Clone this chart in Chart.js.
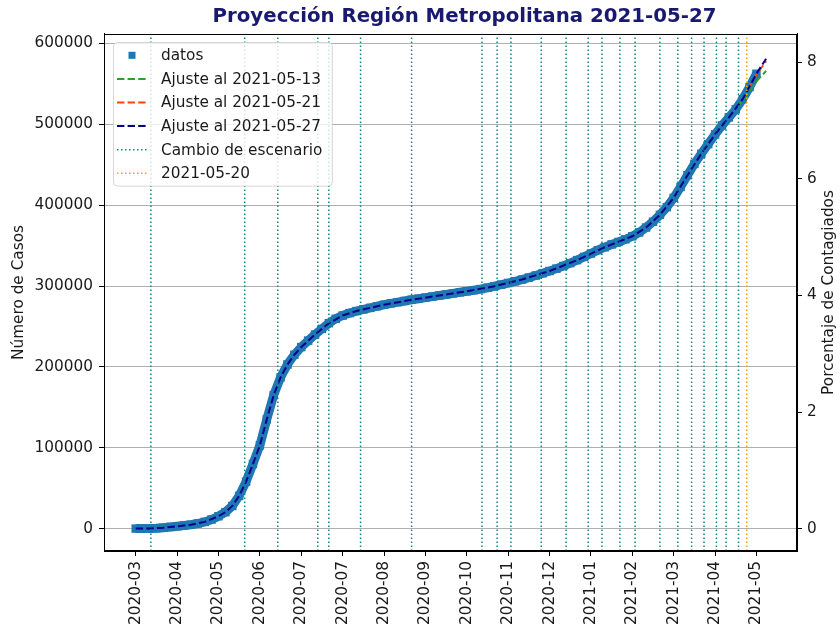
<!DOCTYPE html>
<html><head><meta charset="utf-8">
<script src="https://cdn.jsdelivr.net/npm/chart.js@4.4.1/dist/chart.umd.min.js"></script>
<style>html,body{margin:0;padding:0;background:#fff}canvas{display:block}</style>
</head><body>
<canvas id="c" width="840" height="624"></canvas>
<script>
// ---------- data (x = days since 2020-03-03) ----------
const chartTitle = 'Proyección Región Metropolitana 2021-05-27';
const tickDays = [0,30,60,90,120,150,180,210,240,270,300,330,360,390,420,450];
const tickLabels = ['2020-03','2020-04','2020-05','2020-06','2020-07','2020-07','2020-08','2020-09','2020-10','2020-11','2020-12','2021-01','2021-02','2021-03','2021-04','2021-05'];
const casesTicks = [0,100000,200000,300000,400000,500000,600000];
const pctTicks = [0,2,4,6,8];
const poblacion = 7209000;

const datosDays = [0,5,10,15,20,25,30,35,40,45,50,55,60,65,70,75,80,85,90,95,100,105,110,115,120,125,130,135,140,145,150,155,160,165,170,175,180,185,190,195,200,205,210,215,220,225,230,235,240,245,250,255,260,265,270,275,280,285,290,295,300,305,310,315,320,325,330,335,340,345,350,355,360,365,370,375,380,385,390,395,400,405,410,415,420,425,430,435,440,445,450];
const datosCases = [0,30,150,500,1100,2000,2900,3800,4800,6300,8300,11300,15300,20300,28000,40500,58000,80000,103000,135000,165000,187000,203000,215000,224500,232500,240000,247000,254000,259500,263500,266500,269000,271000,273000,275000,276800,278500,280000,281500,283000,284300,285600,286900,288200,289500,290900,292200,293500,294800,296200,297800,299700,301700,303700,305800,308000,310400,313000,315700,318500,321500,324800,328300,332000,336000,340200,344300,348000,351400,354500,357800,361500,366300,372300,379500,388000,397500,409000,422500,437000,451000,463500,475500,487500,498500,508500,518500,531000,546000,562500];

const ajuste0513Days = [436,440,445,450,457];
const ajuste0513Cases = [520500,529500,541000,553000,566000];
const ajuste0521Days = [444,450,457];
const ajuste0521Cases = [543000,561500,578000];
const ajuste0527Days = [0,10,20,30,40,50,60,65,70,75,80,85,90,95,100,105,110,115,120,130,140,150,160,170,180,200,220,240,260,280,300,320,340,360,370,380,390,400,410,420,430,440,450,457];
const ajuste0527Cases = [0,150,1100,2900,4800,8300,15300,20300,28000,40500,58000,80000,103000,135000,165000,187000,203000,215000,224500,240000,254000,263500,269000,273000,276800,283000,288200,293500,299700,308000,318500,332000,348000,361500,372300,388000,409000,437000,463500,487500,508500,531000,562500,581000];

const escenarioDays = [11,79,103,132,140,163,200,251,262,272,294,312,328,338,351,362,380,393,403,412,421,428,437];
const corteDay = 443;
const corteLabel = '2021-05-20';

// axis limits
const X_MIN = -23, X_MAX = 479.4;
const Y_MIN = -27700, Y_MAX = 611700;

// ---------- helpers ----------
const pts = (xs, ys) => xs.map((x, i) => ({x: x, y: ys[i]}));
const vlines = (days) => {
  const out = [];
  days.forEach(d => { out.push({x: d, y: Y_MIN}); out.push({x: d, y: Y_MAX}); out.push({x: d, y: null}); });
  return out;
};
const FONT = '"DejaVu Sans", Verdana, sans-serif';
Chart.defaults.font.family = FONT;
Chart.defaults.font.size = 15.3;
Chart.defaults.color = '#1a1a1a';

const DASH = [7.4, 3.2];
const DOT = [1.5, 2.5];

const frameAndLegend = {
  id: 'frameAndLegend',
  afterLayout(chart) {
    // matplotlib title sits slightly right of the axes centre
    if (chart.titleBlock) { chart.titleBlock.left += 28; }
  },
  afterDatasetsDraw(chart) {
    const ctx = chart.ctx, ca = chart.chartArea;
    ctx.save();
    ctx.strokeStyle = '#000'; ctx.lineWidth = 1; ctx.setLineDash([]);
    const l = Math.round(ca.left) + 0.5, r = Math.round(ca.right) - 0.5;
    const t = Math.round(ca.top) + 0.5, b = Math.round(ca.bottom) - 0.5;
    ctx.strokeRect(l, t, r - l, b - t);

    const ds = chart.data.datasets;
    ctx.font = '15.3px ' + FONT;
    let maxW = 0;
    ds.forEach(d => { maxW = Math.max(maxW, ctx.measureText(d.label).width); });
    const x0 = 113.5, y0 = 42.5, rowH = 23.6, firstY = 55.3;
    const textX = 161;
    const w = textX - x0 + maxW + 10;
    const h = (firstY - y0) * 2 + (ds.length - 1) * rowH;
    const rad = 4;
    ctx.beginPath();
    ctx.moveTo(x0 + rad, y0);
    ctx.lineTo(x0 + w - rad, y0); ctx.arcTo(x0 + w, y0, x0 + w, y0 + rad, rad);
    ctx.lineTo(x0 + w, y0 + h - rad); ctx.arcTo(x0 + w, y0 + h, x0 + w - rad, y0 + h, rad);
    ctx.lineTo(x0 + rad, y0 + h); ctx.arcTo(x0, y0 + h, x0, y0 + h - rad, rad);
    ctx.lineTo(x0, y0 + rad); ctx.arcTo(x0, y0, x0 + rad, y0, rad);
    ctx.closePath();
    ctx.fillStyle = 'rgba(255,255,255,0.8)';
    ctx.fill();
    ctx.strokeStyle = 'rgba(204,204,204,0.8)';
    ctx.stroke();

    ds.forEach((d, i) => {
      const y = firstY + i * rowH;
      if (d.pointRadius > 0) {
        ctx.fillStyle = d.backgroundColor;
        ctx.fillRect(132 - 3.5, y - 3.5, 7, 7);
      } else {
        ctx.beginPath();
        ctx.setLineDash(d.borderDash || []);
        ctx.lineWidth = d.borderWidth;
        ctx.strokeStyle = d.borderColor;
        ctx.moveTo(117, y); ctx.lineTo(148, y);
        ctx.stroke();
        ctx.setLineDash([]);
      }
      ctx.fillStyle = '#1a1a1a';
      ctx.textBaseline = 'middle';
      ctx.textAlign = 'left';
      ctx.fillText(d.label, textX, y + 1);
    });
    ctx.restore();
  },
  afterDraw(chart) {
    const ctx = chart.ctx, ca = chart.chartArea;
    ctx.save();
    ctx.font = '15.3px ' + FONT;
    ctx.fillStyle = '#1a1a1a';
    ctx.textAlign = 'center';
    ctx.textBaseline = 'middle';
    ctx.translate(829, (ca.top + ca.bottom) / 2);
    ctx.rotate(-Math.PI / 2);
    ctx.fillText('Porcentaje de Contagiados', 0, 0);
    ctx.restore();
  }
};

new Chart(document.getElementById('c'), {
  type: 'line',
  data: {
    datasets: [
      { label: 'datos', data: pts(datosDays, datosCases), borderColor: '#1f77b4', backgroundColor: '#1f77b4',
        borderWidth: 9, pointStyle: 'rect', pointRadius: 6, pointBorderWidth: 0, showLine: true, order: 6 },
      { label: 'Ajuste al 2021-05-13', data: pts(ajuste0513Days, ajuste0513Cases), borderColor: '#2ca02c',
        borderWidth: 2, borderDash: DASH, pointRadius: 0, order: 5 },
      { label: 'Ajuste al 2021-05-21', data: pts(ajuste0521Days, ajuste0521Cases), borderColor: '#ff4500',
        borderWidth: 2, borderDash: DASH, pointRadius: 0, order: 4 },
      { label: 'Ajuste al 2021-05-27', data: pts(ajuste0527Days, ajuste0527Cases), borderColor: '#00008b',
        borderWidth: 2, borderDash: DASH, pointRadius: 0, order: 3 },
      { label: 'Cambio de escenario', data: vlines(escenarioDays), borderColor: '#008b8b',
        borderWidth: 1.5, borderDash: DOT, pointRadius: 0, spanGaps: false, order: 2 },
      { label: corteLabel, data: vlines([corteDay]), borderColor: '#ffa500',
        borderWidth: 1.5, borderDash: DOT, pointRadius: 0, spanGaps: false, order: 1 }
    ]
  },
  options: {
    responsive: false,
    animation: false,
    devicePixelRatio: 1,
    layout: { padding: 0 },
    plugins: {
      legend: { display: false },
      tooltip: { enabled: false },
      title: {
        display: true, text: chartTitle, fullSize: false, color: '#191970',
        font: { size: 19.8, weight: 'bold', family: FONT },
        padding: { top: 4.5, bottom: 5.7 }
      }
    },
    scales: {
      x: {
        type: 'linear', min: X_MIN, max: X_MAX,
        afterBuildTicks: s => { s.ticks = tickDays.map(v => ({value: v})); },
        afterFit: s => { s.height = 73; },
        ticks: { autoSkip: false, minRotation: 90, maxRotation: 90, padding: 5,
          callback: v => tickLabels[tickDays.indexOf(v)] },
        grid: { drawOnChartArea: false, drawTicks: true, tickLength: 5, tickColor: '#000', tickWidth: 1 },
        border: { display: true, color: '#000', width: 1 }
      },
      y: {
        position: 'left', min: Y_MIN, max: Y_MAX,
        afterBuildTicks: s => { s.ticks = casesTicks.map(v => ({value: v})); },
        afterFit: s => { s.width = 104; },
        ticks: { padding: 6, callback: v => String(v) },
        grid: { color: '#b0b0b0', lineWidth: 1, drawTicks: true, tickLength: 5, tickColor: '#000', tickWidth: 1 },
        border: { display: true, color: '#000', width: 1 },
        title: { display: true, text: 'Número de Casos', padding: { top: 10, bottom: 0 }, font: { size: 15.3 } }
      },
      y2: {
        position: 'right', min: Y_MIN / poblacion * 100, max: Y_MAX / poblacion * 100,
        afterBuildTicks: s => { s.ticks = pctTicks.map(v => ({value: v})); },
        afterFit: s => { s.width = 43; },
        ticks: { padding: 5, callback: v => String(v) },
        grid: { drawOnChartArea: false, drawTicks: true, tickLength: 5, tickColor: '#000', tickWidth: 1 },
        border: { display: true, color: '#000', width: 1 }
      }
    }
  },
  plugins: [frameAndLegend]
});
</script>
</body></html>
